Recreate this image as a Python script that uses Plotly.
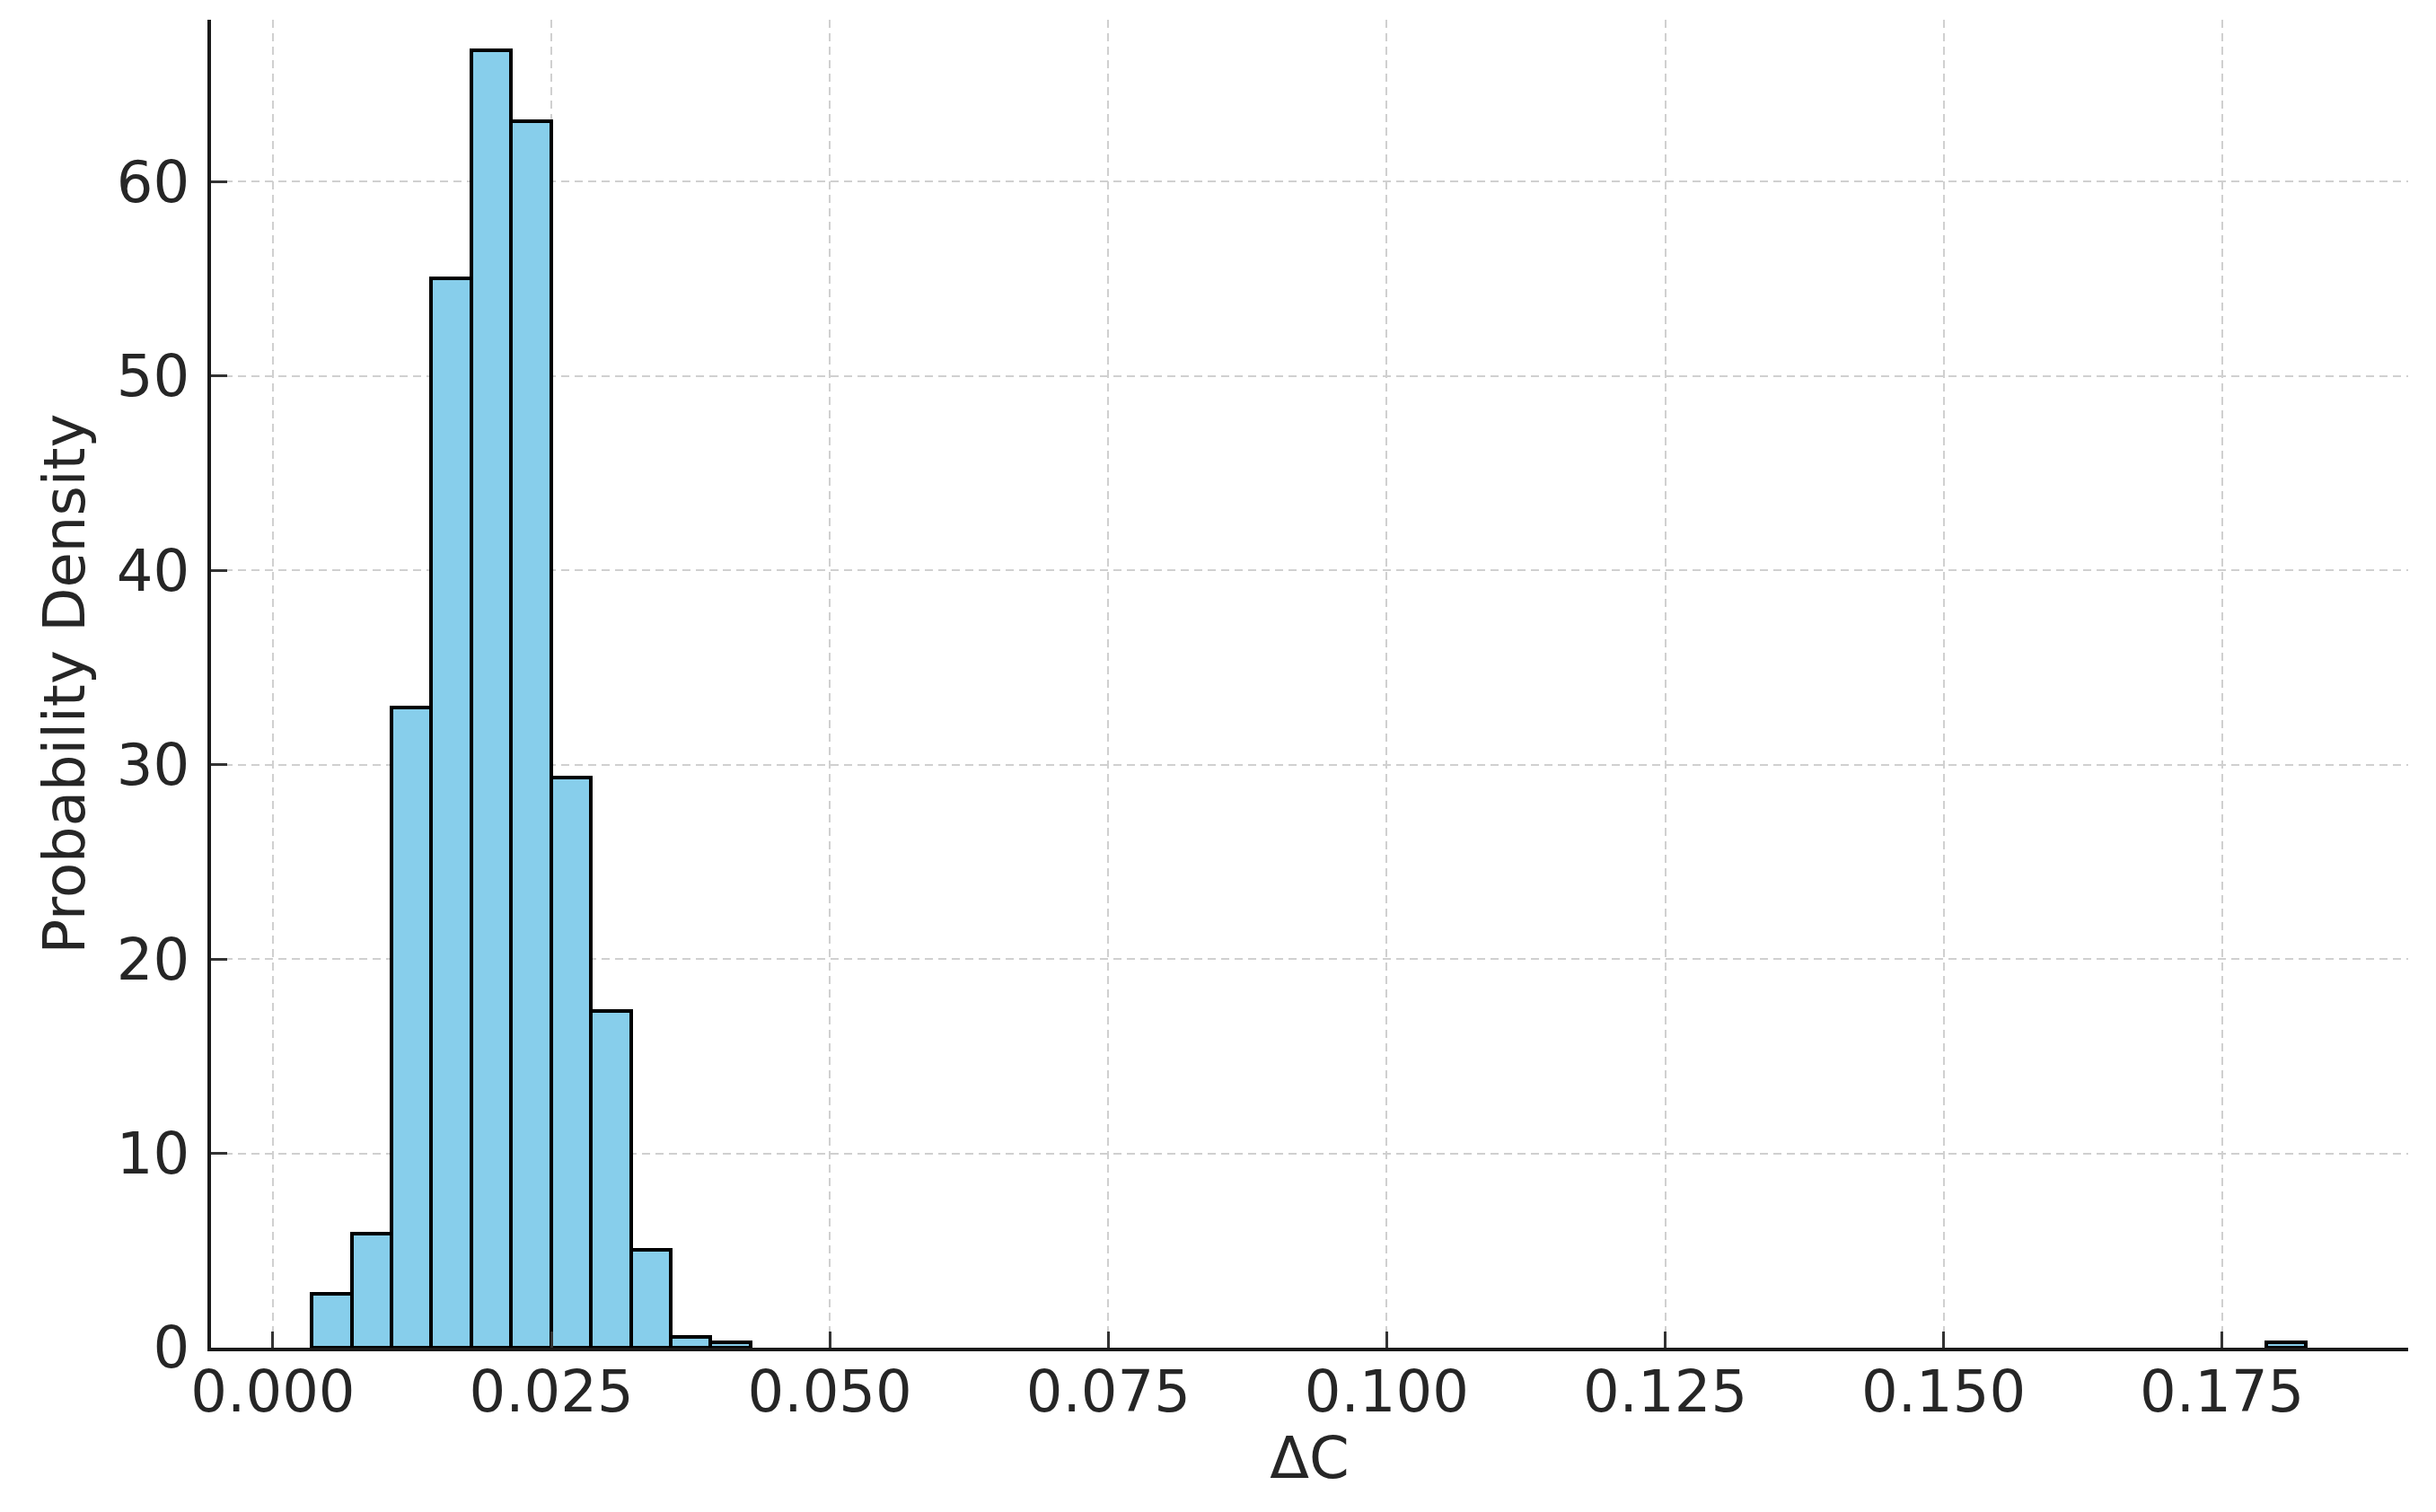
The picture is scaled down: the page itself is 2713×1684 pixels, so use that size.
import plotly.graph_objects as go

# histogram bins (density, 50 bins of equal width)
bin_width = 0.003581
bin_lefts = [0.00349, 0.00707, 0.01065, 0.01423, 0.01781, 0.02139,
             0.02497, 0.02855, 0.03213, 0.03572, 0.03930, 0.17897]
density = [2.79, 5.87, 32.96, 55.03, 66.76, 63.13,
           29.33, 17.32, 5.03, 0.56, 0.28, 0.28]

x_ticks = [0.0, 0.025, 0.05, 0.075, 0.1, 0.125, 0.15, 0.175]
x_tick_labels = ["0.000", "0.025", "0.050", "0.075", "0.100", "0.125", "0.150", "0.175"]
y_ticks = [0, 10, 20, 30, 40, 50, 60]

centers = [b + bin_width / 2 for b in bin_lefts]

font = dict(family="DejaVu Sans", size=64, color="#262626")

fig = go.Figure()
fig.add_trace(go.Bar(
    x=centers,
    y=density,
    width=bin_width,
    marker=dict(color="#87CEEB", line=dict(color="black", width=4)),
    hovertemplate="ΔC: %{x:.4f}<br>Density: %{y:.2f}<extra></extra>",
))

# page body has an 8px margin, so the figure is a bit smaller than the window
fig.update_layout(
    width=2697,
    height=1668,
    margin=dict(l=227, r=23, t=14, b=175),
    paper_bgcolor="white",
    plot_bgcolor="white",
    font=font,
    showlegend=False,
    bargap=0,
)

fig.update_xaxes(
    range=[-0.00556, 0.19171],
    tickvals=x_ticks,
    ticktext=x_tick_labels,
    ticks="inside",
    ticklen=18,
    tickwidth=3,
    tickcolor="#333333",
    ticklabelstandoff=-10,
    showline=True,
    linecolor="#1a1a1a",
    linewidth=4,
    showgrid=True,
    gridcolor="#d0d0d0",
    gridwidth=2,
    griddash="9px,6px",
    zeroline=False,
    title=dict(text="ΔC", font=font, standoff=10),
    tickfont=font,
)

fig.update_yaxes(
    range=[0, 68.34],
    tickvals=y_ticks,
    ticks="inside",
    ticklen=18,
    tickwidth=3,
    tickcolor="#333333",
    ticklabelstandoff=7,
    showline=True,
    linecolor="#1a1a1a",
    linewidth=4,
    showgrid=True,
    gridcolor="#d0d0d0",
    gridwidth=2,
    griddash="9px,6px",
    zeroline=False,
    title=dict(text="Probability Density", font=font, standoff=15),
    tickfont=font,
)

fig.write_html("out.html")
